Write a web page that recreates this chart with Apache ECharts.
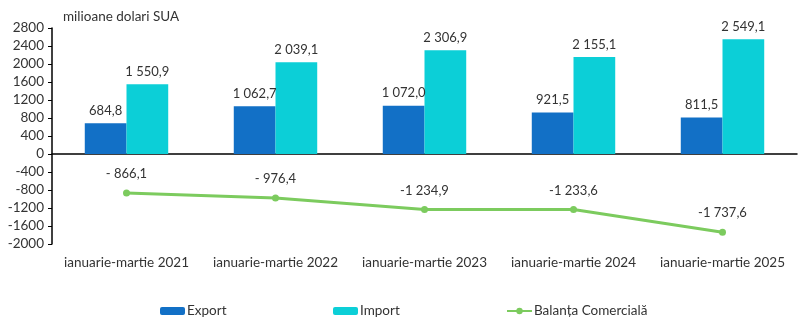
<!DOCTYPE html>
<html>
<head>
<meta charset="utf-8">
<script src="https://cdn.jsdelivr.net/npm/echarts@6/dist/echarts.min.js"></script>
<style>
  html, body { margin: 0; padding: 0; background: #fff; }
  #chart { width: 803px; height: 325px; }
</style>
</head>
<body>
<div id="chart"></div>
<script>
// Perioade (trimestrul I al fiecărui an)
const categories = ['ianuarie-martie 2021', 'ianuarie-martie 2022', 'ianuarie-martie 2023', 'ianuarie-martie 2024', 'ianuarie-martie 2025'];
// Valori, milioane dolari SUA
const exportValues = [684.8, 1062.7, 1072.0, 921.5, 811.5];
const importValues = [1550.9, 2039.1, 2306.9, 2155.1, 2549.1];
const balanceValues = [-866.1, -976.4, -1234.9, -1233.6, -1737.6];
// Etichete afișate deasupra mărcilor
const exportLabels = ['684,8', '1 062,7', '1 072,0', '921,5', '811,5'];
const importLabels = ['1 550,9', '2 039,1', '2 306,9', '2 155,1', '2 549,1'];
const balanceLabels = ['- 866,1', '- 976,4', '-1 234,9', '-1 233,6', '-1 737,6'];

const FONT = 'Lato';
const TXT = '#333333';

const chart = echarts.init(document.getElementById('chart'), null, { renderer: 'canvas' });

function legendAt(name, left) {
  return {
    data: [name], left: left, top: 299,
    itemWidth: 25, itemHeight: 8, itemGap: 2,
    textStyle: { fontFamily: FONT, fontSize: 13.5, color: TXT, padding: [0, 0, 0, -3] }
  };
}

chart.setOption({
  animation: false,
  textStyle: { fontFamily: FONT },
  title: {
    text: 'milioane dolari SUA', left: 58, top: 5,
    textStyle: { fontFamily: FONT, fontSize: 13.5, fontWeight: 'normal', color: TXT }
  },
  legend: [legendAt('Export', 155), legendAt('Import', 328), legendAt('Balanța Comercială', 501)],
  grid: { left: 52, right: 6, top: 28, bottom: 81, containLabel: false },
  xAxis: [
    {
      type: 'category', data: categories, position: 'bottom',
      axisLine: { show: false, onZero: false },
      axisTick: { show: false },
      axisLabel: { interval: 0, fontFamily: FONT, fontSize: 13.5, color: TXT, margin: 12 }
    },
    {
      type: 'category', data: categories, position: 'bottom',
      axisLine: { show: true, onZero: true, lineStyle: { color: '#000', width: 1.5 } },
      axisTick: { show: false },
      axisLabel: { show: false }
    }
  ],
  yAxis: {
    type: 'value', min: -2000, max: 2800, interval: 400,
    axisLine: { show: true, lineStyle: { color: '#000', width: 1.5 } },
    axisTick: { show: true, length: 4, lineStyle: { color: '#000' } },
    axisLabel: { fontFamily: FONT, fontSize: 13.5, color: TXT, margin: 8, formatter: v => String(v) },
    splitLine: { show: false }
  },
  series: [
    {
      name: 'Export', type: 'bar', data: exportValues, barWidth: '28%', barGap: '0%',
      itemStyle: { color: '#1270C6' },
      label: {
        show: true, position: 'top', distance: 6, fontFamily: FONT, fontSize: 13, color: TXT,
        formatter: p => exportLabels[p.dataIndex]
      }
    },
    {
      name: 'Import', type: 'bar', data: importValues, barWidth: '28%', barGap: '0%',
      itemStyle: { color: '#0CCFD7' },
      label: {
        show: true, position: 'top', distance: 6, fontFamily: FONT, fontSize: 13, color: TXT,
        formatter: p => importLabels[p.dataIndex]
      }
    },
    {
      name: 'Balanța Comercială', type: 'line', data: balanceValues,
      symbol: 'circle', symbolSize: 7,
      lineStyle: { color: '#7CCB5E', width: 3 },
      itemStyle: { color: '#7CCB5E' },
      label: {
        show: true, position: 'top', distance: 9, fontFamily: FONT, fontSize: 13, color: TXT,
        formatter: p => balanceLabels[p.dataIndex]
      }
    }
  ]
});
</script>
</body>
</html>
